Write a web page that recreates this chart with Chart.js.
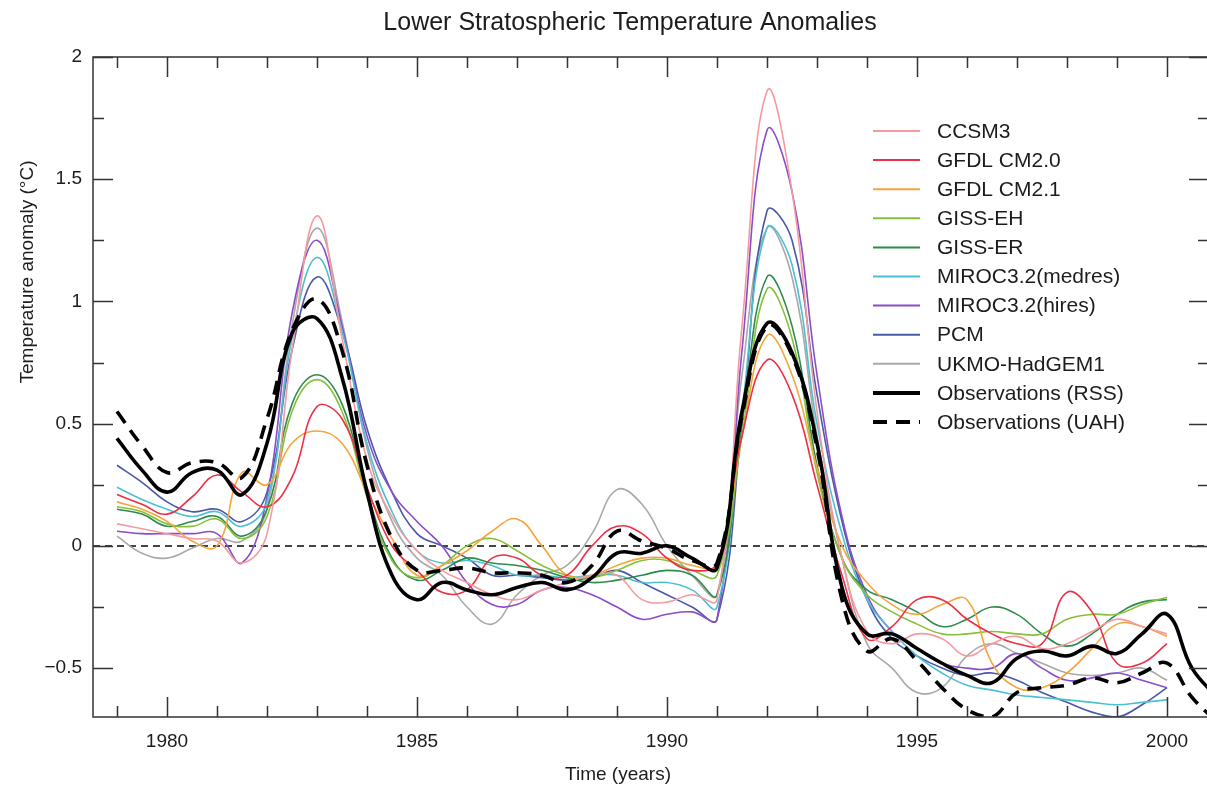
<!DOCTYPE html>
<html>
<head>
<meta charset="utf-8">
<script src="https://cdn.jsdelivr.net/npm/chart.js@4.4.0/dist/chart.umd.min.js"></script>
<style>
  html, body { margin: 0; padding: 0; background: #fff; overflow: hidden; }
  #wrap { width: 1212px; height: 785px; }
</style>
</head>
<body>
<div id="wrap"><canvas id="chart"></canvas></div>
<script>
// time grid (years), half-year steps
const years = [1979, 1979.5, 1980, 1980.5, 1981, 1981.5, 1982, 1982.5, 1983, 1983.5,
  1984, 1984.5, 1985, 1985.5, 1986, 1986.5, 1987, 1987.5, 1988, 1988.5,
  1989, 1989.5, 1990, 1990.5, 1991, 1991.5, 1992, 1992.5, 1993, 1993.5,
  1994, 1994.5, 1995, 1995.5, 1996, 1996.5, 1997, 1997.5, 1998, 1998.5,
  1999, 1999.5, 2000, 2000.5, 2001];

// model runs (°C)
const ccsm3 = [0.09, 0.07, 0.05, 0.03, 0.02, -0.07, 0.05, 0.80, 1.35, 0.85, 0.35, 0.12, -0.02, -0.10, -0.15, -0.20, -0.22, -0.18, -0.15, -0.12, -0.12, -0.22, -0.23, -0.20, -0.22, 0.90, 1.86, 1.45, 0.55, -0.05, -0.35, -0.40, -0.36, -0.38, -0.45, -0.40, -0.37, -0.42, -0.40, -0.35, -0.30, -0.33, -0.36, null, null];
const gfdl20 = [0.21, 0.17, 0.13, 0.20, 0.29, 0.22, 0.16, 0.28, 0.57, 0.52, 0.24, 0.00, -0.10, -0.19, -0.18, -0.05, -0.05, -0.12, -0.12, 0.00, 0.08, 0.05, -0.05, -0.10, -0.07, 0.45, 0.76, 0.62, 0.25, -0.12, -0.38, -0.33, -0.22, -0.22, -0.30, -0.36, -0.40, -0.40, -0.19, -0.27, -0.48, -0.48, -0.40, null, null];
const gfdl21 = [0.18, 0.15, 0.10, 0.02, 0.00, 0.30, 0.25, 0.42, 0.47, 0.42, 0.22, 0.03, -0.12, -0.08, -0.02, 0.06, 0.11, 0.00, -0.12, -0.12, -0.08, -0.05, -0.05, -0.08, -0.08, 0.45, 0.86, 0.70, 0.32, 0.00, -0.15, -0.24, -0.28, -0.24, -0.22, -0.48, -0.58, -0.58, -0.52, -0.42, -0.32, -0.33, -0.37, null, null];
const gissEH = [0.16, 0.14, 0.09, 0.08, 0.11, 0.03, 0.12, 0.55, 0.68, 0.55, 0.20, -0.06, -0.13, -0.08, 0.00, 0.03, -0.02, -0.08, -0.12, -0.13, -0.10, -0.06, -0.06, -0.10, -0.12, 0.45, 1.05, 0.85, 0.30, -0.05, -0.20, -0.27, -0.32, -0.36, -0.36, -0.35, -0.36, -0.36, -0.30, -0.28, -0.28, -0.24, -0.21, null, null];
const gissER = [0.15, 0.13, 0.08, 0.10, 0.12, 0.04, 0.15, 0.58, 0.70, 0.58, 0.22, -0.05, -0.14, -0.10, -0.05, -0.07, -0.08, -0.10, -0.13, -0.15, -0.14, -0.12, -0.10, -0.12, -0.20, 0.50, 1.10, 0.90, 0.33, -0.05, -0.18, -0.22, -0.27, -0.33, -0.30, -0.25, -0.28, -0.36, -0.41, -0.36, -0.28, -0.23, -0.22, null, null];
const mirocMed = [0.24, 0.19, 0.15, 0.12, 0.14, 0.08, 0.18, 0.85, 1.18, 0.88, 0.42, 0.14, -0.02, -0.07, -0.06, -0.08, -0.12, -0.12, -0.13, -0.12, -0.12, -0.15, -0.15, -0.18, -0.25, 0.55, 1.30, 1.15, 0.50, 0.05, -0.22, -0.35, -0.45, -0.52, -0.57, -0.59, -0.61, -0.62, -0.63, -0.64, -0.65, -0.64, -0.63, null, null];
const mirocHi = [0.06, 0.05, 0.05, 0.05, 0.05, -0.07, 0.20, 0.95, 1.25, 0.90, 0.45, 0.22, 0.10, 0.00, -0.15, -0.24, -0.24, -0.18, -0.17, -0.20, -0.25, -0.30, -0.28, -0.27, -0.30, 0.80, 1.70, 1.45, 0.70, 0.12, -0.20, -0.35, -0.42, -0.48, -0.50, -0.50, -0.44, -0.50, -0.55, -0.54, -0.52, -0.55, -0.58, null, null];
const pcm = [0.33, 0.26, 0.18, 0.14, 0.15, 0.10, 0.22, 0.80, 1.10, 0.88, 0.48, 0.22, 0.05, 0.00, -0.05, -0.12, -0.12, -0.13, -0.14, -0.13, -0.10, -0.15, -0.20, -0.25, -0.30, 0.50, 1.37, 1.25, 0.62, 0.10, -0.22, -0.38, -0.45, -0.50, -0.53, -0.52, -0.55, -0.60, -0.64, -0.68, -0.70, -0.65, -0.58, null, null];
const ukmo = [0.04, -0.03, -0.05, -0.01, 0.03, 0.02, 0.15, 0.90, 1.30, 0.92, 0.40, 0.10, -0.05, -0.12, -0.25, -0.32, -0.20, -0.12, -0.08, 0.05, 0.23, 0.17, 0.00, -0.12, -0.20, 0.70, 1.30, 1.10, 0.45, -0.05, -0.40, -0.50, -0.60, -0.58, -0.45, -0.40, -0.44, -0.48, -0.52, -0.53, -0.52, -0.50, -0.55, null, null];

// observations (°C)
const rss = [0.44, 0.31, 0.22, 0.30, 0.31, 0.21, 0.42, 0.87, 0.93, 0.69, 0.22, -0.12, -0.22, -0.15, -0.18, -0.20, -0.17, -0.15, -0.18, -0.13, -0.03, -0.03, 0.00, -0.05, -0.09, 0.55, 0.91, 0.79, 0.42, -0.17, -0.36, -0.36, -0.42, -0.48, -0.53, -0.56, -0.46, -0.43, -0.45, -0.41, -0.44, -0.36, -0.28, -0.50, -0.62];
const uah = [0.55, 0.41, 0.30, 0.34, 0.34, 0.28, 0.52, 0.88, 1.01, 0.80, 0.33, 0.03, -0.10, -0.10, -0.09, -0.11, -0.11, -0.12, -0.15, -0.08, 0.06, 0.02, -0.01, -0.06, -0.07, 0.53, 0.90, 0.78, 0.40, -0.22, -0.43, -0.38, -0.47, -0.58, -0.67, -0.70, -0.60, -0.58, -0.57, -0.54, -0.56, -0.52, -0.48, -0.62, -0.72];

const xTicks = [1980, 1985, 1990, 1995, 2000];
const yTicks = [-0.5, 0, 0.5, 1, 1.5, 2];

const FONT = "'Liberation Sans', Arial, Helvetica, sans-serif";
const INK = '#1c1c1c';

const models = [
  ['CCSM3', ccsm3, '#f59aa0'],
  ['GFDL CM2.0', gfdl20, '#ee2f45'],
  ['GFDL CM2.1', gfdl21, '#f6a53a'],
  ['GISS-EH', gissEH, '#86c03a'],
  ['GISS-ER', gissER, '#2f8a4e'],
  ['MIROC3.2(medres)', mirocMed, '#4cc0d2'],
  ['MIROC3.2(hires)', mirocHi, '#8a4cc8'],
  ['PCM', pcm, '#4a58a8'],
  ['UKMO-HadGEM1', ukmo, '#a9a9a9']
];

function pts(vals) {
  return years.map((x, i) => ({x: x, y: vals[i]}));
}

const datasets = models.map(m => ({
  label: m[0],
  data: pts(m[1]),
  borderColor: m[2],
  borderWidth: 1.6,
  order: 1
}));
datasets.push({label: 'Observations (RSS)', data: pts(rss), borderColor: '#000', borderWidth: 3.6, order: 0});
datasets.push({label: 'Observations (UAH)', data: pts(uah), borderColor: '#000', borderWidth: 3.6, borderDash: [14, 9], order: 0});

const deco = {
  id: 'deco',
  beforeDatasetsDraw(chart) {
    const {ctx, chartArea: a, scales: {y}} = chart;
    const y0 = y.getPixelForValue(0);
    ctx.save();
    ctx.strokeStyle = '#444';
    ctx.lineWidth = 2;
    ctx.setLineDash([7, 5]);
    ctx.beginPath();
    ctx.moveTo(a.left, y0);
    ctx.lineTo(a.right, y0);
    ctx.stroke();
    ctx.restore();
  },
  afterDraw(chart) {
    const {ctx, chartArea: a, scales: {x, y}} = chart;
    ctx.save();
    // frame + inward ticks
    ctx.strokeStyle = '#333';
    ctx.lineWidth = 1.5;
    ctx.strokeRect(a.left, a.top, a.right - a.left, a.bottom - a.top);
    ctx.beginPath();
    for (let yr = 1979; yr <= 2000; yr++) {
      const px = Math.round(x.getPixelForValue(yr)) + 0.5;
      const len = yr % 5 === 0 ? 20 : 11;
      ctx.moveTo(px, a.bottom); ctx.lineTo(px, a.bottom - len);
      ctx.moveTo(px, a.top); ctx.lineTo(px, a.top + len);
    }
    for (let k = -2; k <= 8; k++) {
      const py = Math.round(y.getPixelForValue(k * 0.25)) + 0.5;
      const len = k % 2 === 0 ? 20 : 11;
      ctx.moveTo(a.left, py); ctx.lineTo(a.left + len, py);
      ctx.moveTo(a.right, py); ctx.lineTo(a.right - len, py);
    }
    ctx.stroke();

    // titles
    ctx.fillStyle = INK;
    ctx.textAlign = 'center';
    ctx.textBaseline = 'middle';
    ctx.font = '25px ' + FONT;
    ctx.fillText('Lower Stratospheric Temperature Anomalies', 630, 23);
    ctx.font = '19px ' + FONT;
    ctx.fillText('Time (years)', 618, 775);
    ctx.save();
    ctx.translate(28, 272);
    ctx.rotate(-Math.PI / 2);
    ctx.fillText('Temperature anomaly (\u00b0C)', 0, 0);
    ctx.restore();

    // legend
    ctx.font = '21px ' + FONT;
    ctx.textAlign = 'left';
    chart.data.datasets.forEach((ds, i) => {
      const yy = 131 + i * 29.1;
      ctx.strokeStyle = ds.borderColor;
      ctx.lineWidth = ds.borderWidth > 2 ? 4 : 2;
      ctx.setLineDash(ds.borderDash || []);
      ctx.beginPath();
      ctx.moveTo(873, yy);
      ctx.lineTo(920, yy);
      ctx.stroke();
      ctx.fillStyle = INK;
      ctx.fillText(ds.label, 937, yy + 1);
    });
    ctx.restore();
  }
};

new Chart(document.getElementById('chart'), {
  type: 'line',
  data: {datasets: datasets},
  options: {
    responsive: true,
    maintainAspectRatio: false,
    animation: false,
    layout: {padding: {top: 57, right: 3, bottom: 0, left: 0}},
    elements: {
      point: {radius: 0, hoverRadius: 0},
      line: {tension: 0.42, fill: false}
    },
    plugins: {
      legend: {display: false},
      title: {display: false},
      tooltip: {enabled: false}
    },
    scales: {
      x: {
        type: 'linear',
        min: 1978.52,
        max: 2000.84,
        grid: {display: false, drawTicks: false},
        border: {display: false},
        afterBuildTicks: s => { s.ticks = xTicks.map(v => ({value: v})); },
        afterFit: s => { s.height = 68; },
        ticks: {
          autoSkip: false,
          maxRotation: 0,
          padding: 13,
          color: INK,
          font: {size: 19, family: FONT},
          callback: v => String(v)
        }
      },
      y: {
        min: -0.7,
        max: 2.0,
        grid: {display: false, drawTicks: false},
        border: {display: false},
        afterBuildTicks: s => { s.ticks = yTicks.map(v => ({value: v})); },
        afterFit: s => { s.width = 93; },
        ticks: {
          padding: 11,
          color: INK,
          font: {size: 19, family: FONT},
          callback: v => v < 0 ? '\u2212' + Math.abs(v) : String(v)
        }
      }
    }
  },
  plugins: [deco]
});
</script>
</body>
</html>
